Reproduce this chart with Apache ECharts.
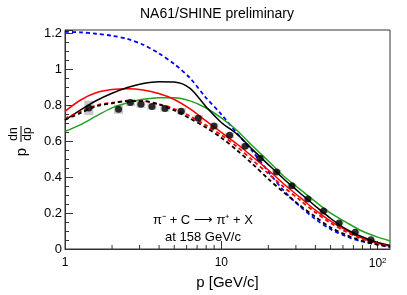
<!DOCTYPE html>
<html><head><meta charset="utf-8">
<script src="https://cdn.jsdelivr.net/npm/echarts@6/dist/echarts.min.js"></script>
<style>html,body{margin:0;padding:0;background:#fff}#c{width:407px;height:295px}</style>
</head><body><div id="c"></div>
<script>
// ---- data ----
const pData = [1.42,2.20,2.62,3.06,3.60,4.36,5.54,7.12,8.97,11.3,14.2,17.7,22.6,28.3,35.8,45.1,56.7,71.8,90.5];
const yData = [0.786,0.778,0.816,0.807,0.794,0.783,0.767,0.729,0.685,0.633,0.573,0.505,0.429,0.352,0.278,0.211,0.145,0.093,0.052];
const sysErr = [0.04,0.025,0.02,0.02,0.018,0.018,0.018,0.017,0.016,0.015,0.015,0.014,0.013,0.012,0.011,0.01,0.009,0.008,0.007];

// model curves, sampled at these momenta
const pCurve = [1,1.26,1.58,2.0,2.51,3.16,3.98,5.01,6.31,7.94,10,12.6,15.8,20,25.1,31.6,39.8,50.1,63.1,79.4,100,120];
const blackSolid = [0.718,0.775,0.826,0.868,0.900,0.922,0.932,0.930,0.895,0.795,0.705,0.640,0.555,0.470,0.390,0.315,0.240,0.170,0.110,0.068,0.036,0.020];
const redSolid   = [0.767,0.830,0.870,0.888,0.893,0.886,0.866,0.833,0.780,0.715,0.650,0.585,0.515,0.440,0.362,0.290,0.218,0.155,0.104,0.061,0.032,0.016];
const greenSolid = [0.655,0.693,0.740,0.786,0.815,0.834,0.843,0.843,0.825,0.787,0.730,0.660,0.575,0.490,0.405,0.335,0.265,0.200,0.148,0.100,0.066,0.045];
const blueDashed = [1.210,1.207,1.199,1.188,1.170,1.138,1.090,1.030,0.952,0.845,0.750,0.645,0.545,0.430,0.325,0.240,0.168,0.110,0.070,0.042,0.024,0.012];
const blackDashed= [0.720,0.758,0.795,0.812,0.824,0.824,0.806,0.772,0.727,0.678,0.620,0.550,0.475,0.390,0.315,0.245,0.180,0.120,0.078,0.045,0.025,0.012];
const redDashed  = [0.728,0.765,0.800,0.815,0.824,0.824,0.806,0.780,0.740,0.690,0.635,0.570,0.495,0.420,0.345,0.275,0.205,0.145,0.095,0.057,0.030,0.015];

const xMinorTicks = [2,3,4,5,6,7,8,9,20,30,40,50,60,70,80,90];

function pairs(px, py){ return px.map((p,i)=>[p, py[i]]); }

const chart = echarts.init(document.getElementById('c'));
const F = 'Liberation Sans, Arial, Helvetica, sans-serif';
const AX = '#333';

function lineSeries(py, color, dashed, width){
  return {type:'line', data:pairs(pCurve,py), showSymbol:false, smooth:0.3, z:3,
    lineStyle:{color:color, width:width, type: dashed ? [4,3] : 'solid'}, silent:true};
}

chart.setOption({
  animation:false,
  backgroundColor:'#fff',
  grid:{left:65, right:17, top:30, bottom:42, show:true, borderColor:AX, borderWidth:1, backgroundColor:'transparent'},
  xAxis:{type:'log', logBase:10, min:1, max:120,
    axisLine:{lineStyle:{color:AX, width:1}},
    axisTick:{inside:true, length:8, lineStyle:{color:AX}},
    splitLine:{show:false}, minorTick:{show:false},
    axisLabel:{color:'#000', fontFamily:F, fontSize:12, margin:8, showMaxLabel:false,
      formatter:function(v){ if (Math.abs(v-100)<1e-6) return '10{s|2}'; return String(Math.round(v)); },
      rich:{s:{fontSize:8, verticalAlign:'top', padding:[0,0,6,0], fontFamily:F, color:'#000'}}},
    name:'p [GeV/c]', nameLocation:'middle', nameGap:26,
    nameTextStyle:{color:'#000', fontFamily:F, fontSize:15}},
  yAxis:{type:'value', min:0, max:1.22, interval:0.2,
    axisLine:{show:true, lineStyle:{color:AX, width:1}},
    axisTick:{show:true, inside:true, length:8, lineStyle:{color:AX}},
    minorTick:{show:true, splitNumber:4, length:4, lineStyle:{color:AX}},
    splitLine:{show:false},
    axisLabel:{color:'#000', fontFamily:F, fontSize:13, margin:3, showMaxLabel:false}},
  graphic:[
    {type:'text', x:217, y:14, style:{text:'NA61/SHINE preliminary', font:'14px '+F, fill:'#000', align:'center', verticalAlign:'middle'}},
    {type:'text', x:203, y:220, style:{text:'π⁻ + C ⟶ π⁺ + X', font:'13px '+F, fill:'#000', align:'center', verticalAlign:'middle'}},
    {type:'text', x:203, y:237, style:{text:'at 158 GeV/c', font:'13px '+F, fill:'#000', align:'center', verticalAlign:'middle'}},
    {type:'group', x:21, y:140, rotation:Math.PI/2, children:[
      {type:'text', x:-12, y:1, style:{text:'p', font:'15px '+F, fill:'#000', align:'center', verticalAlign:'middle'}},
      {type:'text', x:6, y:-7, style:{text:'dn', font:'12px '+F, fill:'#000', align:'center', verticalAlign:'middle'}},
      {type:'text', x:6, y:7, style:{text:'dp', font:'12px '+F, fill:'#000', align:'center', verticalAlign:'middle'}},
      {type:'line', shape:{x1:-2, y1:0, x2:14, y2:0}, style:{stroke:'#000', lineWidth:1}}
    ]}
  ],
  series:[
    {type:'custom', z:1, clip:false, silent:true,
      data:pData.map((p,i)=>[p, yData[i], sysErr[i]]),
      renderItem:function(params, api){
        const p=api.value(0), y=api.value(1), e=api.value(2);
        const t=api.coord([p,y+e]), b=api.coord([p,y-e]);
        return {type:'rect', shape:{x:t[0]-4.5, y:t[1], width:9, height:b[1]-t[1]}, style:{fill:'#c8c8c8'}};
      }},
    lineSeries(blueDashed, '#0000ff', true, 1.8),
    lineSeries(greenSolid, '#1fa01f', false, 1.5),
    lineSeries(redSolid, '#ff0000', false, 1.5),
    lineSeries(blackSolid, '#000000', false, 1.5),
    lineSeries(redDashed, '#ff0000', true, 1.8),
    lineSeries(blackDashed, '#000000', true, 1.8),
    {type:'scatter', z:5, silent:true, symbol:'circle', symbolSize:7,
      data:pairs(pData, yData), itemStyle:{color:'#000'}},
    {type:'custom', z:6, clip:false, silent:true,
      data:xMinorTicks.map(v=>[v,0]),
      renderItem:function(params, api){
        const pt=api.coord([api.value(0), 0]);
        return {type:'line', shape:{x1:pt[0], y1:pt[1], x2:pt[0], y2:pt[1]-4}, style:{stroke:AX, lineWidth:1}};
      }}
  ]
});
</script></body></html>
